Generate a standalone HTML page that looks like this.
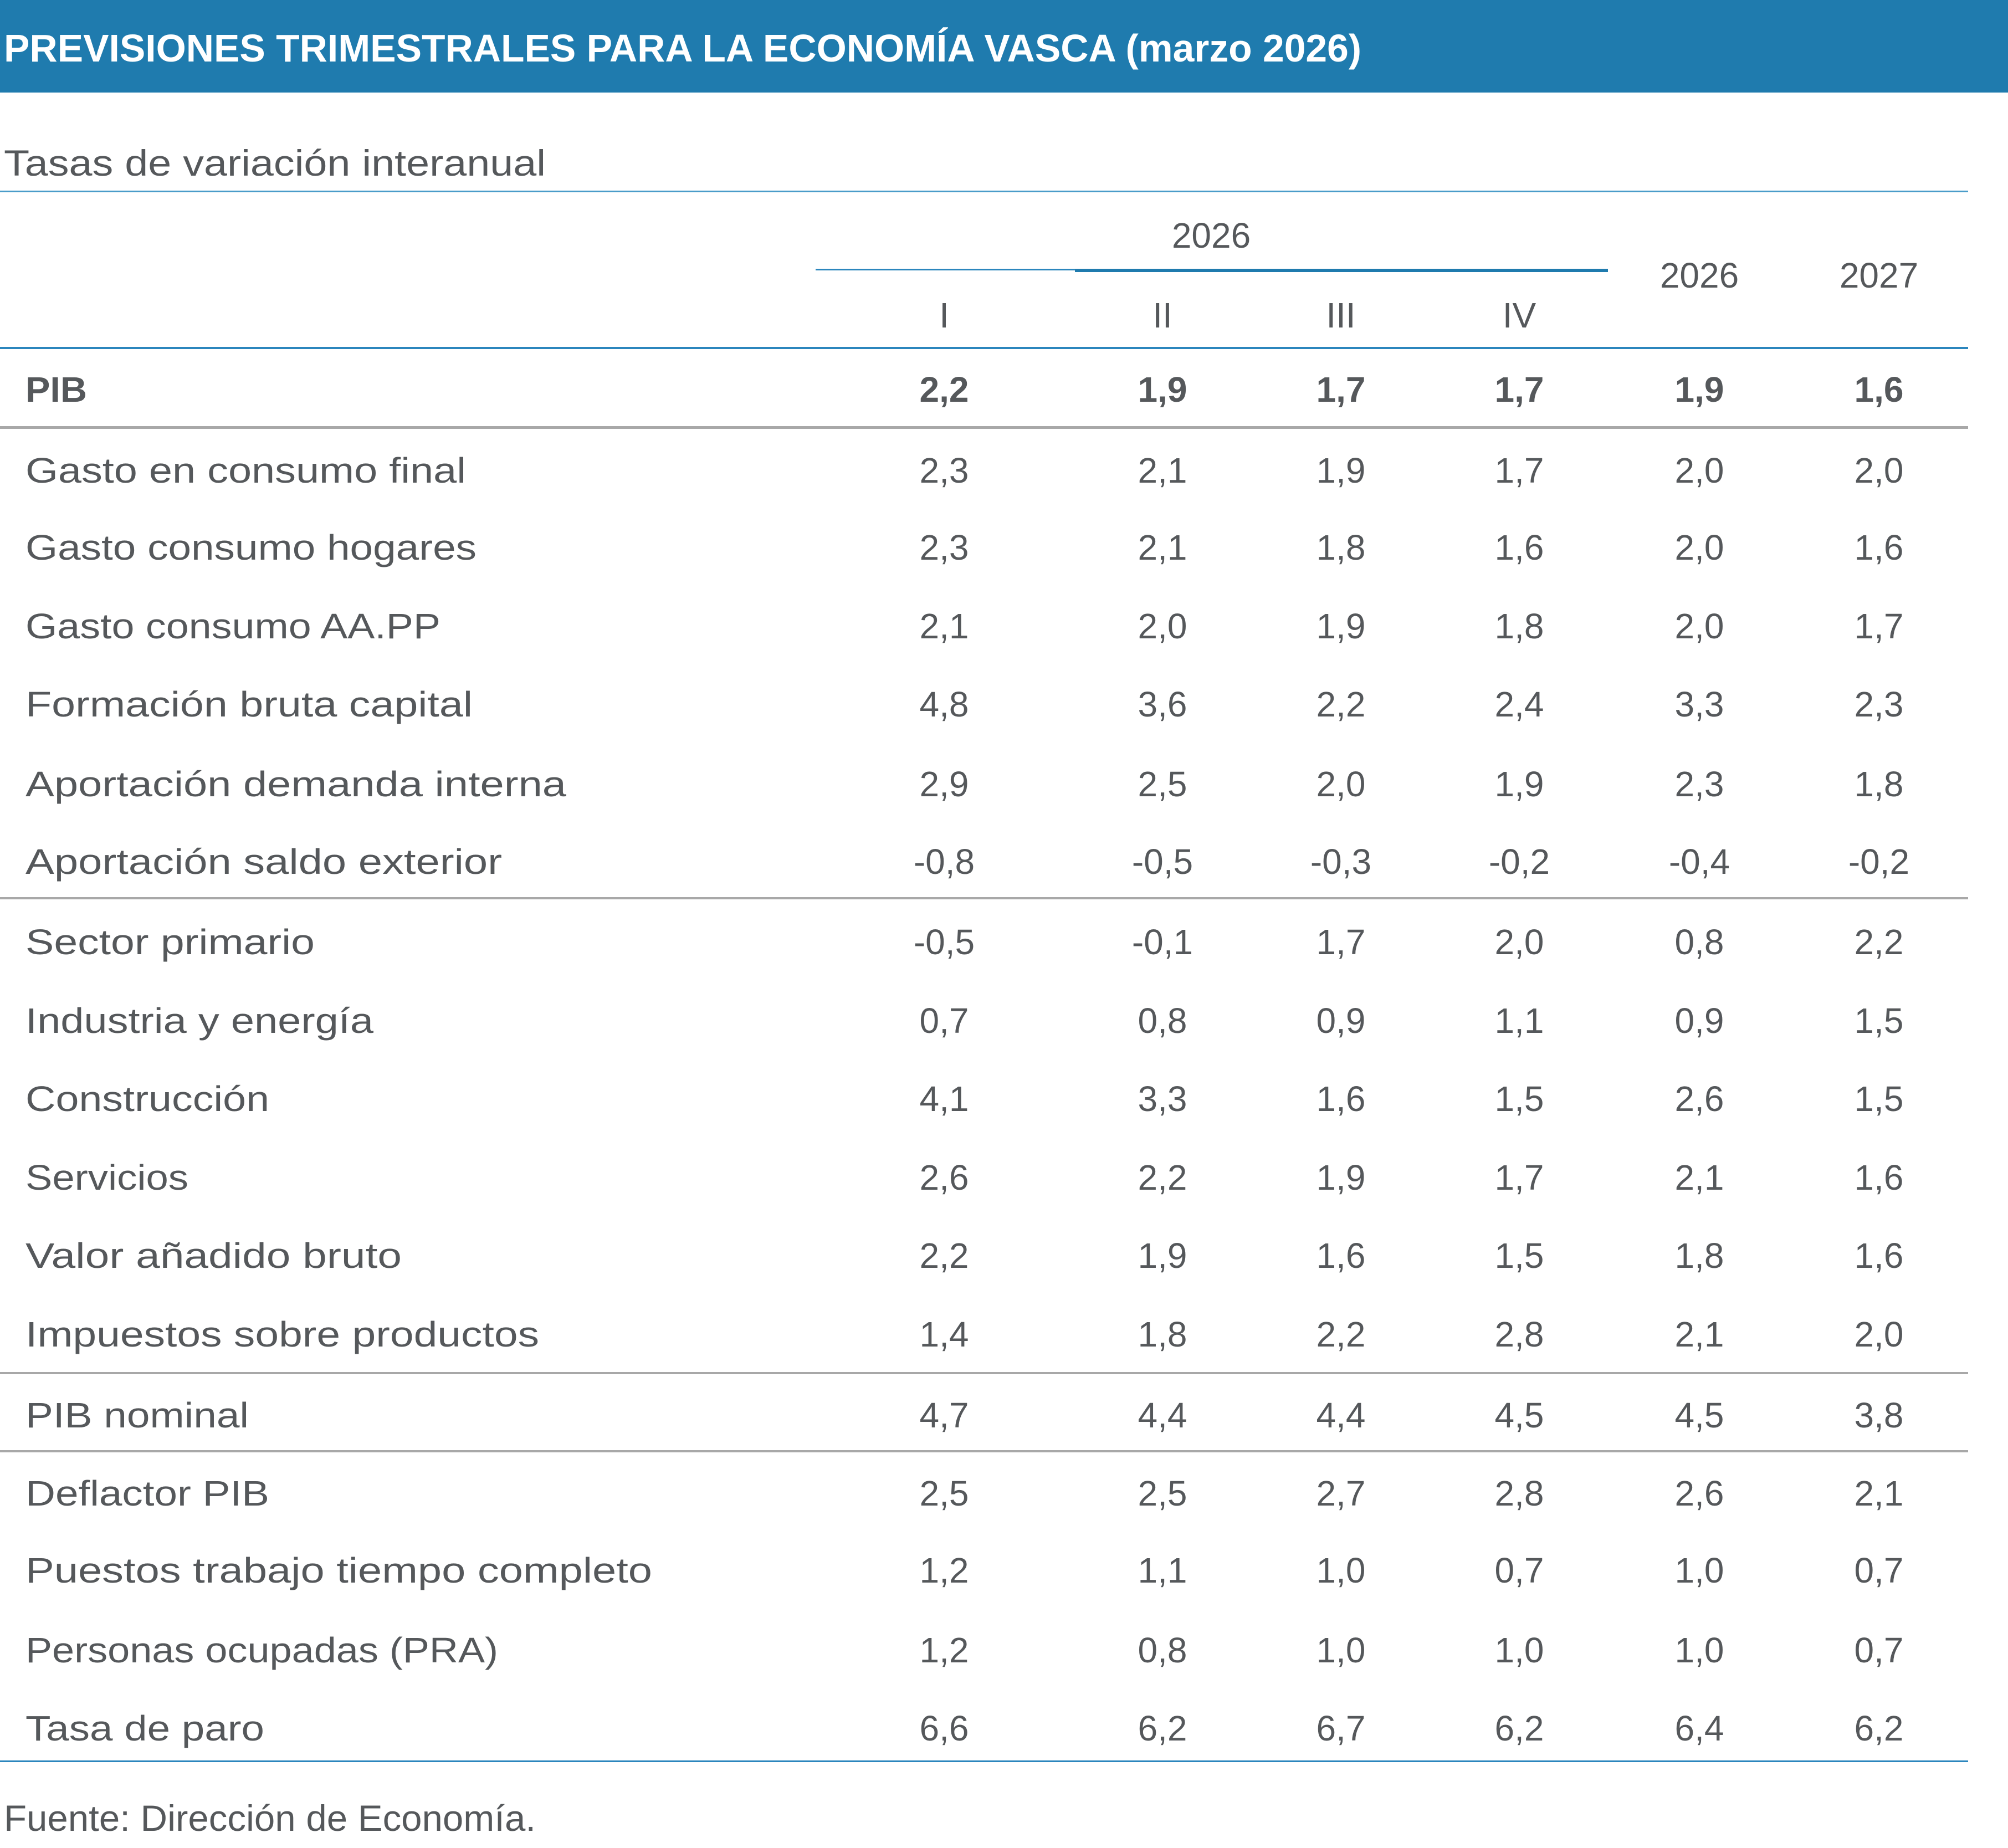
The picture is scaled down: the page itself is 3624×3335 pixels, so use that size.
<!DOCTYPE html>
<html><head><meta charset="utf-8"><style>
html,body{margin:0;padding:0;background:#fff;}
svg{display:block;}
text{font-family:"Liberation Sans",sans-serif;fill:#55585b;}
.v{text-anchor:middle;font-size:64px;}
.l{font-size:64px;}
.b{font-weight:bold;}
</style></head><body>
<svg width="3624" height="3335" viewBox="0 0 3624 3335" xmlns="http://www.w3.org/2000/svg">
<rect x="0" y="0" width="3624" height="167" fill="#1f7bae"/>
<text x="7" y="111" style="fill:#fff;font-weight:bold;font-size:70px" textLength="2450" lengthAdjust="spacingAndGlyphs">PREVISIONES TRIMESTRALES PARA LA ECONOMÍA VASCA (marzo 2026)</text>
<text x="7" y="317" style="font-size:66px" textLength="978" lengthAdjust="spacingAndGlyphs">Tasas de variación interanual</text>
<rect x="0" y="344" width="3552" height="3" fill="#4a9cc9"/>
<text x="2186" y="447" class="v">2026</text>
<rect x="1472" y="485" width="468" height="3" fill="#2b86bd"/>
<rect x="1940" y="485" width="962" height="6" fill="#1f7bae"/>
<text x="1704" y="591" class="v">I</text>
<text x="2098" y="591" class="v">II</text>
<text x="2420" y="591" class="v">III</text>
<text x="2742" y="591" class="v">IV</text>
<text x="3067" y="519" class="v">2026</text>
<text x="3391" y="519" class="v">2027</text>
<rect x="0" y="626" width="3552" height="4" fill="#2b86bd"/>
<rect x="0" y="769" width="3552" height="5" fill="#a8a8a8"/>
<rect x="0" y="1619" width="3552" height="4" fill="#a8a8a8"/>
<rect x="0" y="2476" width="3552" height="4" fill="#a8a8a8"/>
<rect x="0" y="2617" width="3552" height="4" fill="#a8a8a8"/>
<rect x="0" y="3177" width="3552" height="3" fill="#2b86bd"/>
<text x="7" y="3304" style="font-size:66px" textLength="960" lengthAdjust="spacingAndGlyphs">Fuente: Dirección de Economía.</text>

<g class="b"><text x="46" y="725" class="l b" textLength="111" lengthAdjust="spacingAndGlyphs">PIB</text>
<text x="1704" y="725" class="v b">2,2</text><text x="2098" y="725" class="v b">1,9</text><text x="2420" y="725" class="v b">1,7</text><text x="2742" y="725" class="v b">1,7</text><text x="3067" y="725" class="v b">1,9</text><text x="3391" y="725" class="v b">1,6</text></g>

<text x="46" y="871" class="l" textLength="795" lengthAdjust="spacingAndGlyphs">Gasto en consumo final</text>
<text x="1704" y="871" class="v">2,3</text><text x="2098" y="871" class="v">2,1</text><text x="2420" y="871" class="v">1,9</text><text x="2742" y="871" class="v">1,7</text><text x="3067" y="871" class="v">2,0</text><text x="3391" y="871" class="v">2,0</text>

<text x="46" y="1010" class="l" textLength="814" lengthAdjust="spacingAndGlyphs">Gasto consumo hogares</text>
<text x="1704" y="1010" class="v">2,3</text><text x="2098" y="1010" class="v">2,1</text><text x="2420" y="1010" class="v">1,8</text><text x="2742" y="1010" class="v">1,6</text><text x="3067" y="1010" class="v">2,0</text><text x="3391" y="1010" class="v">1,6</text>

<text x="46" y="1152" class="l" textLength="749" lengthAdjust="spacingAndGlyphs">Gasto consumo AA.PP</text>
<text x="1704" y="1152" class="v">2,1</text><text x="2098" y="1152" class="v">2,0</text><text x="2420" y="1152" class="v">1,9</text><text x="2742" y="1152" class="v">1,8</text><text x="3067" y="1152" class="v">2,0</text><text x="3391" y="1152" class="v">1,7</text>

<text x="46" y="1293" class="l" textLength="807" lengthAdjust="spacingAndGlyphs">Formación bruta capital</text>
<text x="1704" y="1293" class="v">4,8</text><text x="2098" y="1293" class="v">3,6</text><text x="2420" y="1293" class="v">2,2</text><text x="2742" y="1293" class="v">2,4</text><text x="3067" y="1293" class="v">3,3</text><text x="3391" y="1293" class="v">2,3</text>

<text x="46" y="1437" class="l" textLength="976" lengthAdjust="spacingAndGlyphs">Aportación demanda interna</text>
<text x="1704" y="1437" class="v">2,9</text><text x="2098" y="1437" class="v">2,5</text><text x="2420" y="1437" class="v">2,0</text><text x="2742" y="1437" class="v">1,9</text><text x="3067" y="1437" class="v">2,3</text><text x="3391" y="1437" class="v">1,8</text>

<text x="46" y="1577" class="l" textLength="860" lengthAdjust="spacingAndGlyphs">Aportación saldo exterior</text>
<text x="1704" y="1577" class="v">-0,8</text><text x="2098" y="1577" class="v">-0,5</text><text x="2420" y="1577" class="v">-0,3</text><text x="2742" y="1577" class="v">-0,2</text><text x="3067" y="1577" class="v">-0,4</text><text x="3391" y="1577" class="v">-0,2</text>

<text x="46" y="1722" class="l" textLength="522" lengthAdjust="spacingAndGlyphs">Sector primario</text>
<text x="1704" y="1722" class="v">-0,5</text><text x="2098" y="1722" class="v">-0,1</text><text x="2420" y="1722" class="v">1,7</text><text x="2742" y="1722" class="v">2,0</text><text x="3067" y="1722" class="v">0,8</text><text x="3391" y="1722" class="v">2,2</text>

<text x="46" y="1864" class="l" textLength="628" lengthAdjust="spacingAndGlyphs">Industria y energía</text>
<text x="1704" y="1864" class="v">0,7</text><text x="2098" y="1864" class="v">0,8</text><text x="2420" y="1864" class="v">0,9</text><text x="2742" y="1864" class="v">1,1</text><text x="3067" y="1864" class="v">0,9</text><text x="3391" y="1864" class="v">1,5</text>

<text x="46" y="2005" class="l" textLength="440" lengthAdjust="spacingAndGlyphs">Construcción</text>
<text x="1704" y="2005" class="v">4,1</text><text x="2098" y="2005" class="v">3,3</text><text x="2420" y="2005" class="v">1,6</text><text x="2742" y="2005" class="v">1,5</text><text x="3067" y="2005" class="v">2,6</text><text x="3391" y="2005" class="v">1,5</text>

<text x="46" y="2147" class="l" textLength="294" lengthAdjust="spacingAndGlyphs">Servicios</text>
<text x="1704" y="2147" class="v">2,6</text><text x="2098" y="2147" class="v">2,2</text><text x="2420" y="2147" class="v">1,9</text><text x="2742" y="2147" class="v">1,7</text><text x="3067" y="2147" class="v">2,1</text><text x="3391" y="2147" class="v">1,6</text>

<text x="46" y="2288" class="l" textLength="679" lengthAdjust="spacingAndGlyphs">Valor añadido bruto</text>
<text x="1704" y="2288" class="v">2,2</text><text x="2098" y="2288" class="v">1,9</text><text x="2420" y="2288" class="v">1,6</text><text x="2742" y="2288" class="v">1,5</text><text x="3067" y="2288" class="v">1,8</text><text x="3391" y="2288" class="v">1,6</text>

<text x="46" y="2430" class="l" textLength="927" lengthAdjust="spacingAndGlyphs">Impuestos sobre productos</text>
<text x="1704" y="2430" class="v">1,4</text><text x="2098" y="2430" class="v">1,8</text><text x="2420" y="2430" class="v">2,2</text><text x="2742" y="2430" class="v">2,8</text><text x="3067" y="2430" class="v">2,1</text><text x="3391" y="2430" class="v">2,0</text>

<text x="46" y="2576" class="l" textLength="403" lengthAdjust="spacingAndGlyphs">PIB nominal</text>
<text x="1704" y="2576" class="v">4,7</text><text x="2098" y="2576" class="v">4,4</text><text x="2420" y="2576" class="v">4,4</text><text x="2742" y="2576" class="v">4,5</text><text x="3067" y="2576" class="v">4,5</text><text x="3391" y="2576" class="v">3,8</text>

<text x="46" y="2717" class="l" textLength="440" lengthAdjust="spacingAndGlyphs">Deflactor PIB</text>
<text x="1704" y="2717" class="v">2,5</text><text x="2098" y="2717" class="v">2,5</text><text x="2420" y="2717" class="v">2,7</text><text x="2742" y="2717" class="v">2,8</text><text x="3067" y="2717" class="v">2,6</text><text x="3391" y="2717" class="v">2,1</text>

<text x="46" y="2856" class="l" textLength="1131" lengthAdjust="spacingAndGlyphs">Puestos trabajo tiempo completo</text>
<text x="1704" y="2856" class="v">1,2</text><text x="2098" y="2856" class="v">1,1</text><text x="2420" y="2856" class="v">1,0</text><text x="2742" y="2856" class="v">0,7</text><text x="3067" y="2856" class="v">1,0</text><text x="3391" y="2856" class="v">0,7</text>

<text x="46" y="3000" class="l" textLength="853" lengthAdjust="spacingAndGlyphs">Personas ocupadas (PRA)</text>
<text x="1704" y="3000" class="v">1,2</text><text x="2098" y="3000" class="v">0,8</text><text x="2420" y="3000" class="v">1,0</text><text x="2742" y="3000" class="v">1,0</text><text x="3067" y="3000" class="v">1,0</text><text x="3391" y="3000" class="v">0,7</text>

<text x="46" y="3141" class="l" textLength="431" lengthAdjust="spacingAndGlyphs">Tasa de paro</text>
<text x="1704" y="3141" class="v">6,6</text><text x="2098" y="3141" class="v">6,2</text><text x="2420" y="3141" class="v">6,7</text><text x="2742" y="3141" class="v">6,2</text><text x="3067" y="3141" class="v">6,4</text><text x="3391" y="3141" class="v">6,2</text>
</svg>
</body></html>
